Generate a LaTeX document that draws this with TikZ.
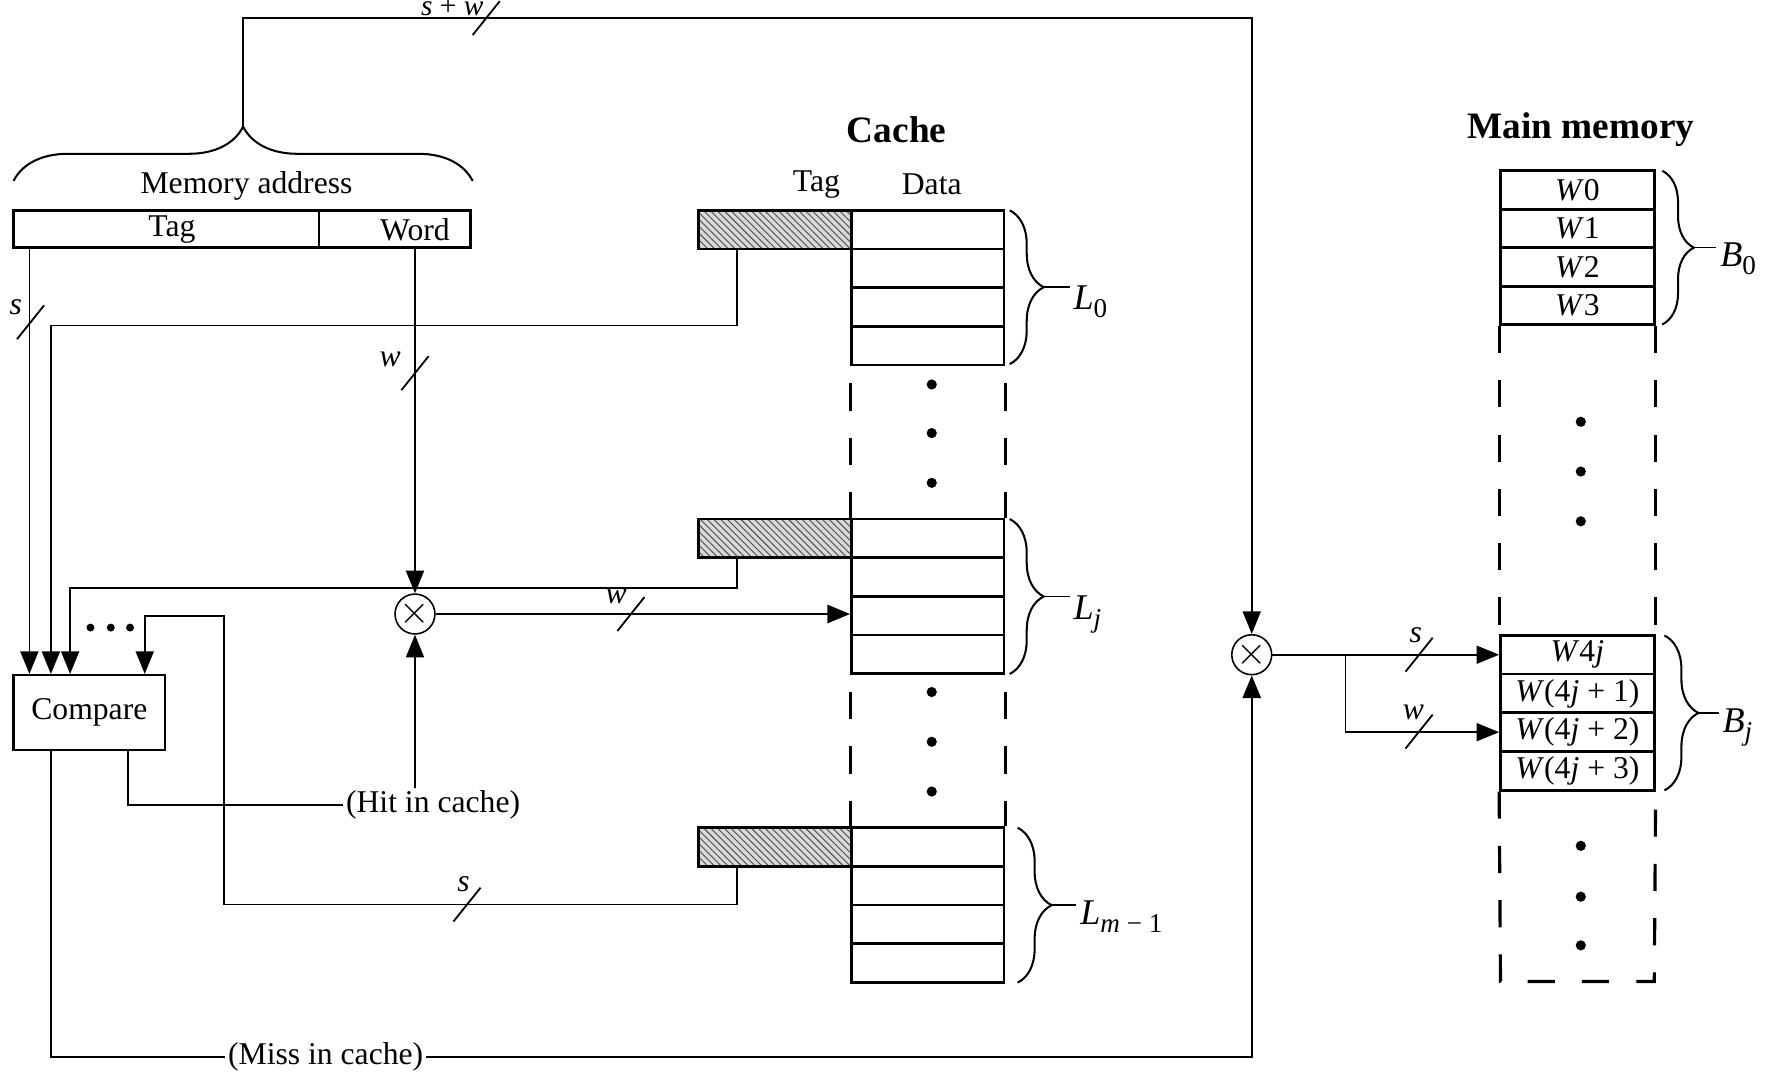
\documentclass[tikz,border=0pt]{standalone}
\usepackage{fontspec}
\setmainfont{Liberation Serif}
\usetikzlibrary{arrows.meta,patterns,decorations.pathreplacing,calc}
\begin{document}
\begin{tikzpicture}[x=0.5pt,y=-0.5pt,
  lab/.style={font=\fontsize{14}{16}\selectfont, inner sep=1pt},
  llab/.style={font=\fontsize{16}{18}\selectfont, inner sep=0pt, anchor=base west},
  conn/.style={line width=0.7pt},
  arr/.style={conn,-{Triangle[length=10pt,width=8pt]}},
  box/.style={draw,line width=1.2pt,inner sep=0pt,font=\fontsize{14}{16}\selectfont},
  cell/.style={box,minimum width=67.5pt,minimum height=17.1pt},
  mcell/.style={box,minimum width=68pt,minimum height=17.1pt},
  tagbox/.style={box,minimum width=67.5pt,minimum height=17.1pt,preaction={fill=black!15},pattern=north west lines,pattern color=black!70},
  dashln/.style={line width=1.4pt,dash pattern=on 12pt off 12pt},
  mult/.style={draw,circle,line width=0.7pt,minimum size=16pt,inner sep=0pt,font=\fontsize{16}{18}\selectfont},
  dotn/.style={circle,fill,inner sep=0pt,minimum size=4.5pt},
  brc/.style={decorate,line width=0.9pt},
  slash/.pic={\draw[line width=0.8pt] (-12,15) -- (12,-15);},
  ttl/.style={font=\bfseries\fontsize{16.5}{19}\selectfont, inner sep=1pt},
]
\useasboundingbox (0,0) rectangle (1568,950);

% helper coordinates
\coordinate (X26) at (26,0);
\coordinate (X45) at (45,0);
\coordinate (X62) at (62,0);
\coordinate (X113) at (113,0);
\coordinate (X128) at (128,0);
\coordinate (X198) at (198,0);
\coordinate (X367) at (367,0);
\coordinate (X652) at (652,0);
\coordinate (X1190) at (1190,0);
\coordinate (Y16) at (0,16);
\coordinate (Y288) at (0,288);
\coordinate (Y520) at (0,520);
\coordinate (Y545) at (0,545);
\coordinate (Y800) at (0,800);

% memory address
\node[box,minimum width=135pt,minimum height=16.5pt] (atag) at (147,202.5) {};
\node[lab] (atagl) at (152,203) {Tag};
\node[box,minimum width=67pt,minimum height=16.5pt] (aword) at (349,202.5) {};
\node[lab] (awordl) at (367,203) {Word};
\node[lab] (maddr) at (218,164) {Memory address};
\draw[brc,decoration={brace,amplitude=24pt}] (12,160) -- (418,160);
\coordinate (brtip) at (215,113);

% compare
\node[box,line width=1pt,minimum width=67pt,minimum height=33pt] (cmp) at (79,630) {Compare};
\foreach \x in {80,98,115} \node[dotn,minimum size=3.5pt] (cdot\x) at (\x,555) {};

% cache
\node[ttl] (cachet) at (793,115) {Cache};
\node[lab] (ctag) at (722,163) {Tag};
\node[lab] (cdata) at (824,163) {Data};
\foreach \n/\t in {L0/186, Lj/459, Lm/732} {
  \node[tagbox] (\n t) at (685.5,\t+17) {};
  \foreach \i in {0,...,3} \node[cell] (\n d\i) at (820.5,{\t+17+34.25*\i}) {};
}
\draw[dashln,dash phase=16.5pt] (L0d3.south west) -- (Ljd0.north west);
\draw[dashln,dash phase=16.5pt] (L0d3.south east) -- (Ljd0.north east);
\draw[dashln,dash phase=16.5pt] (Ljd3.south west) -- (Lmd0.north west);
\draw[dashln,dash phase=16.5pt] (Ljd3.south east) -- (Lmd0.north east);
\foreach \y in {340,383,427,612,656,700} \node[dotn] (kd\y) at (824,\y) {};

% cache braces
\draw[brc,decoration={brace,amplitude=15pt}] (893,186) -- (893,322);
\draw[conn] (923,254) -- (946,254);
\node[llab] (lab0) at (949,274) {\textit{L}\raisebox{-0.45ex}{\fontsize{12}{14}\selectfont 0}};
\draw[brc,decoration={brace,amplitude=15pt}] (893,459) -- (893,596);
\draw[conn] (923,527.5) -- (946,527.5);
\node[llab] (labj) at (949,548) {\textit{L}\raisebox{-0.45ex}{\fontsize{12}{14}\selectfont\textit{j}}};
\draw[brc,decoration={brace,amplitude=15pt}] (900,732) -- (900,869);
\draw[conn] (930,800.5) -- (952,800.5);
\node[llab] (labm) at (955,818) {\textit{L}\raisebox{-0.45ex}{\fontsize{12}{14}\selectfont\textit{m} − 1}};

% main memory
\node[ttl] (mmt) at (1398,115) {Main memory};
\foreach \i/\w in {0/{\textit{W}0},1/{\textit{W}1},2/{\textit{W}2},3/{\textit{W}3}}
  \node[mcell] (B0c\i) at (1395,{151+17+34*\i}) {\w};
\foreach \i/\w in {0/{\textit{W}4\textit{j}},1/{\textit{W}(4\textit{j} + 1)},2/{\textit{W}(4\textit{j} + 2)},3/{\textit{W}(4\textit{j} + 3)}}
  \node[mcell] (Bjc\i) at (1395,{562+17+34.25*\i}) {\w};
\draw[dashln] (B0c3.south west) -- (Bjc0.north west);
\draw[dashln] (B0c3.south east) -- (Bjc0.north east);
\draw[dashln] (Bjc3.south west) -- (1327,868) -- (1463,868) -- (Bjc3.south east);
\foreach \y in {373,417,461,748,793,836} \node[dotn] (md\y) at (1398,\y) {};
\draw[brc,decoration={brace,amplitude=14pt}] (1470,151) -- (1470,287);
\draw[conn] (1498,219) -- (1518,219);
\node[llab] (labb0) at (1521,236) {\textit{B}\raisebox{-0.45ex}{\fontsize{12}{14}\selectfont 0}};
\draw[brc,decoration={brace,amplitude=15pt}] (1472,562) -- (1472,699);
\draw[conn] (1502,630.5) -- (1520,630.5);
\node[llab] (labbj) at (1523,648) {\textit{B}\raisebox{-0.45ex}{\fontsize{12}{14}\selectfont\textit{j}}};

% multipliers
\node[mult] (m1) at (367,543) {$\times$};
\node[mult] (m2) at (1107,579) {$\times$};

% labels
\node[lab] (hit) at (383,712) {(Hit in cache)};
\node[lab] (miss) at (288,935) {(Miss in cache)};

% connectors
\draw[arr] (brtip) -- (brtip |- Y16) -| (m2.north);
\draw[arr] (atag.south -| X26) -- (cmp.north -| X26);
\draw[arr] (L0t.south -| X652) -- (X652 |- Y288) -| (cmp.north -| X45);
\draw[arr] (Ljt.south -| X652) -- (X652 |- Y520) -| (cmp.north -| X62);
\draw[arr] (Lmt.south -| X652) -- (X652 |- Y800) -| (X198 |- Y545) -| (cmp.north -| X128);
\draw[arr] (aword.south -| X367) -- (m1.north);
\draw[arr,line width=1pt] (m1.east) -- (Ljd2.west |- m1);
\draw[conn] (cmp.south -| X113) |- (hit.west);
\draw[arr] (hit.north -| X367) -- (m1.south);
\draw[conn] (cmp.south -| X45) |- (miss.west);
\draw[arr,line width=1pt] (miss.east) -| (m2.south);
\draw[arr] (m2.east) -- (Bjc0.west);
\draw[arr] (m2.east -| X1190) |- (Bjc2.west);

% bus width slashes
\pic at (430,16) {slash};
\node[font=\fontsize{13}{14}\selectfont, inner sep=0pt, text height=6.5pt, text depth=0pt, anchor=base] (lsw) at (400,14) {\textit{s} + \textit{w}};
\pic at (27,285) {slash};
\node[lab] (ls1) at (14,272) {\textit{s}};
\pic at (367,330) {slash};
\node[lab] (lw1) at (345,318) {\textit{w}};
\pic at (558,543) {slash};
\node[lab] (lw2) at (545,527) {\textit{w}};
\pic at (413,800) {slash};
\node[lab] (ls2) at (410,782) {\textit{s}};
\pic at (1255,579) {slash};
\node[lab] (ls3) at (1252,562) {\textit{s}};
\pic at (1255,647) {slash};
\node[lab] (lw3) at (1250,630) {\textit{w}};
\end{tikzpicture}
\end{document}
